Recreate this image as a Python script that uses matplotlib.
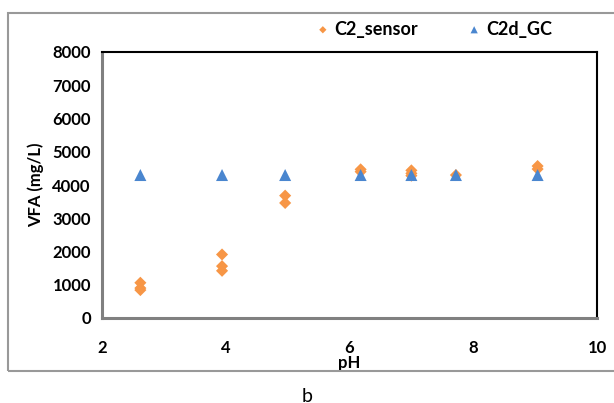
import matplotlib.pyplot as plt
from matplotlib.patches import Rectangle

# Data
sensor_ph = [2.62, 2.62, 2.62, 3.94, 3.94, 3.94, 4.96, 4.96,
             6.18, 6.18, 7.0, 7.0, 7.0, 7.72, 9.04, 9.04]
sensor_vfa = [1060, 900, 840, 1910, 1560, 1420, 3680, 3460,
              4470, 4400, 4440, 4350, 4280, 4300, 4570, 4480]
gc_ph = [2.62, 3.94, 4.96, 6.18, 7.0, 7.72, 9.04]
gc_vfa = [4300, 4300, 4300, 4300, 4300, 4300, 4300]

x_ticks = [2, 4, 6, 8, 10]
y_ticks = [0, 1000, 2000, 3000, 4000, 5000, 6000, 7000, 8000]

plt.rcParams['font.family'] = ['Lato', 'DejaVu Sans']

fig = plt.figure(figsize=(6.14, 4.03), dpi=100)

# Outer chart frame (gray)
fig.patches.append(Rectangle((8 / 614, 1 - 371 / 403), 1.0, (371 - 13) / 403,
                             transform=fig.transFigure, fill=False,
                             edgecolor='#999999', linewidth=1.5))

ax = fig.add_axes([102 / 614, 1 - 318 / 403, (597 - 102) / 614, (318 - 52) / 403])

ax.scatter(sensor_ph, sensor_vfa, marker='D', s=38, color='#F79646',
           edgecolors='none', label='C2_sensor', zorder=3)
ax.scatter(gc_ph, gc_vfa, marker='^', s=75, color='#4A86CF',
           edgecolors='none', label='C2d_GC', zorder=4)

ax.set_xlim(2, 10)
ax.set_ylim(0, 8000)
ax.set_xticks(x_ticks)
ax.set_yticks(y_ticks)
ax.tick_params(length=0, labelsize=12)
for lab in ax.get_xticklabels() + ax.get_yticklabels():
    lab.set_fontweight('bold')
ax.tick_params(axis='x', pad=16)
ax.tick_params(axis='y', pad=8)

ax.spines[['top', 'right']].set_color('black')
ax.spines[['top', 'right']].set_linewidth(1.5)
ax.spines[['bottom', 'left']].set_color('#808080')
ax.spines[['bottom', 'left']].set_linewidth(2.2)

ax.set_xlabel('pH', fontsize=12, fontweight='bold', labelpad=-1)
ax.set_ylabel('VFA (mg/L)', fontsize=12, fontweight='bold', labelpad=6)

ax.legend(loc='center left', bbox_to_anchor=(312 / 614, 1 - 29 / 403),
          bbox_transform=fig.transFigure, ncol=2, frameon=False,
          prop={'weight': 'bold', 'size': 13}, handletextpad=0.05,
          handlelength=1.2, columnspacing=2.5, markerscale=0.6,
          borderaxespad=0, borderpad=0)

fig.text(0.5, 1 - 396 / 403, 'b', ha='center', va='center', fontsize=14)

plt.savefig('out.png', dpi=100)
